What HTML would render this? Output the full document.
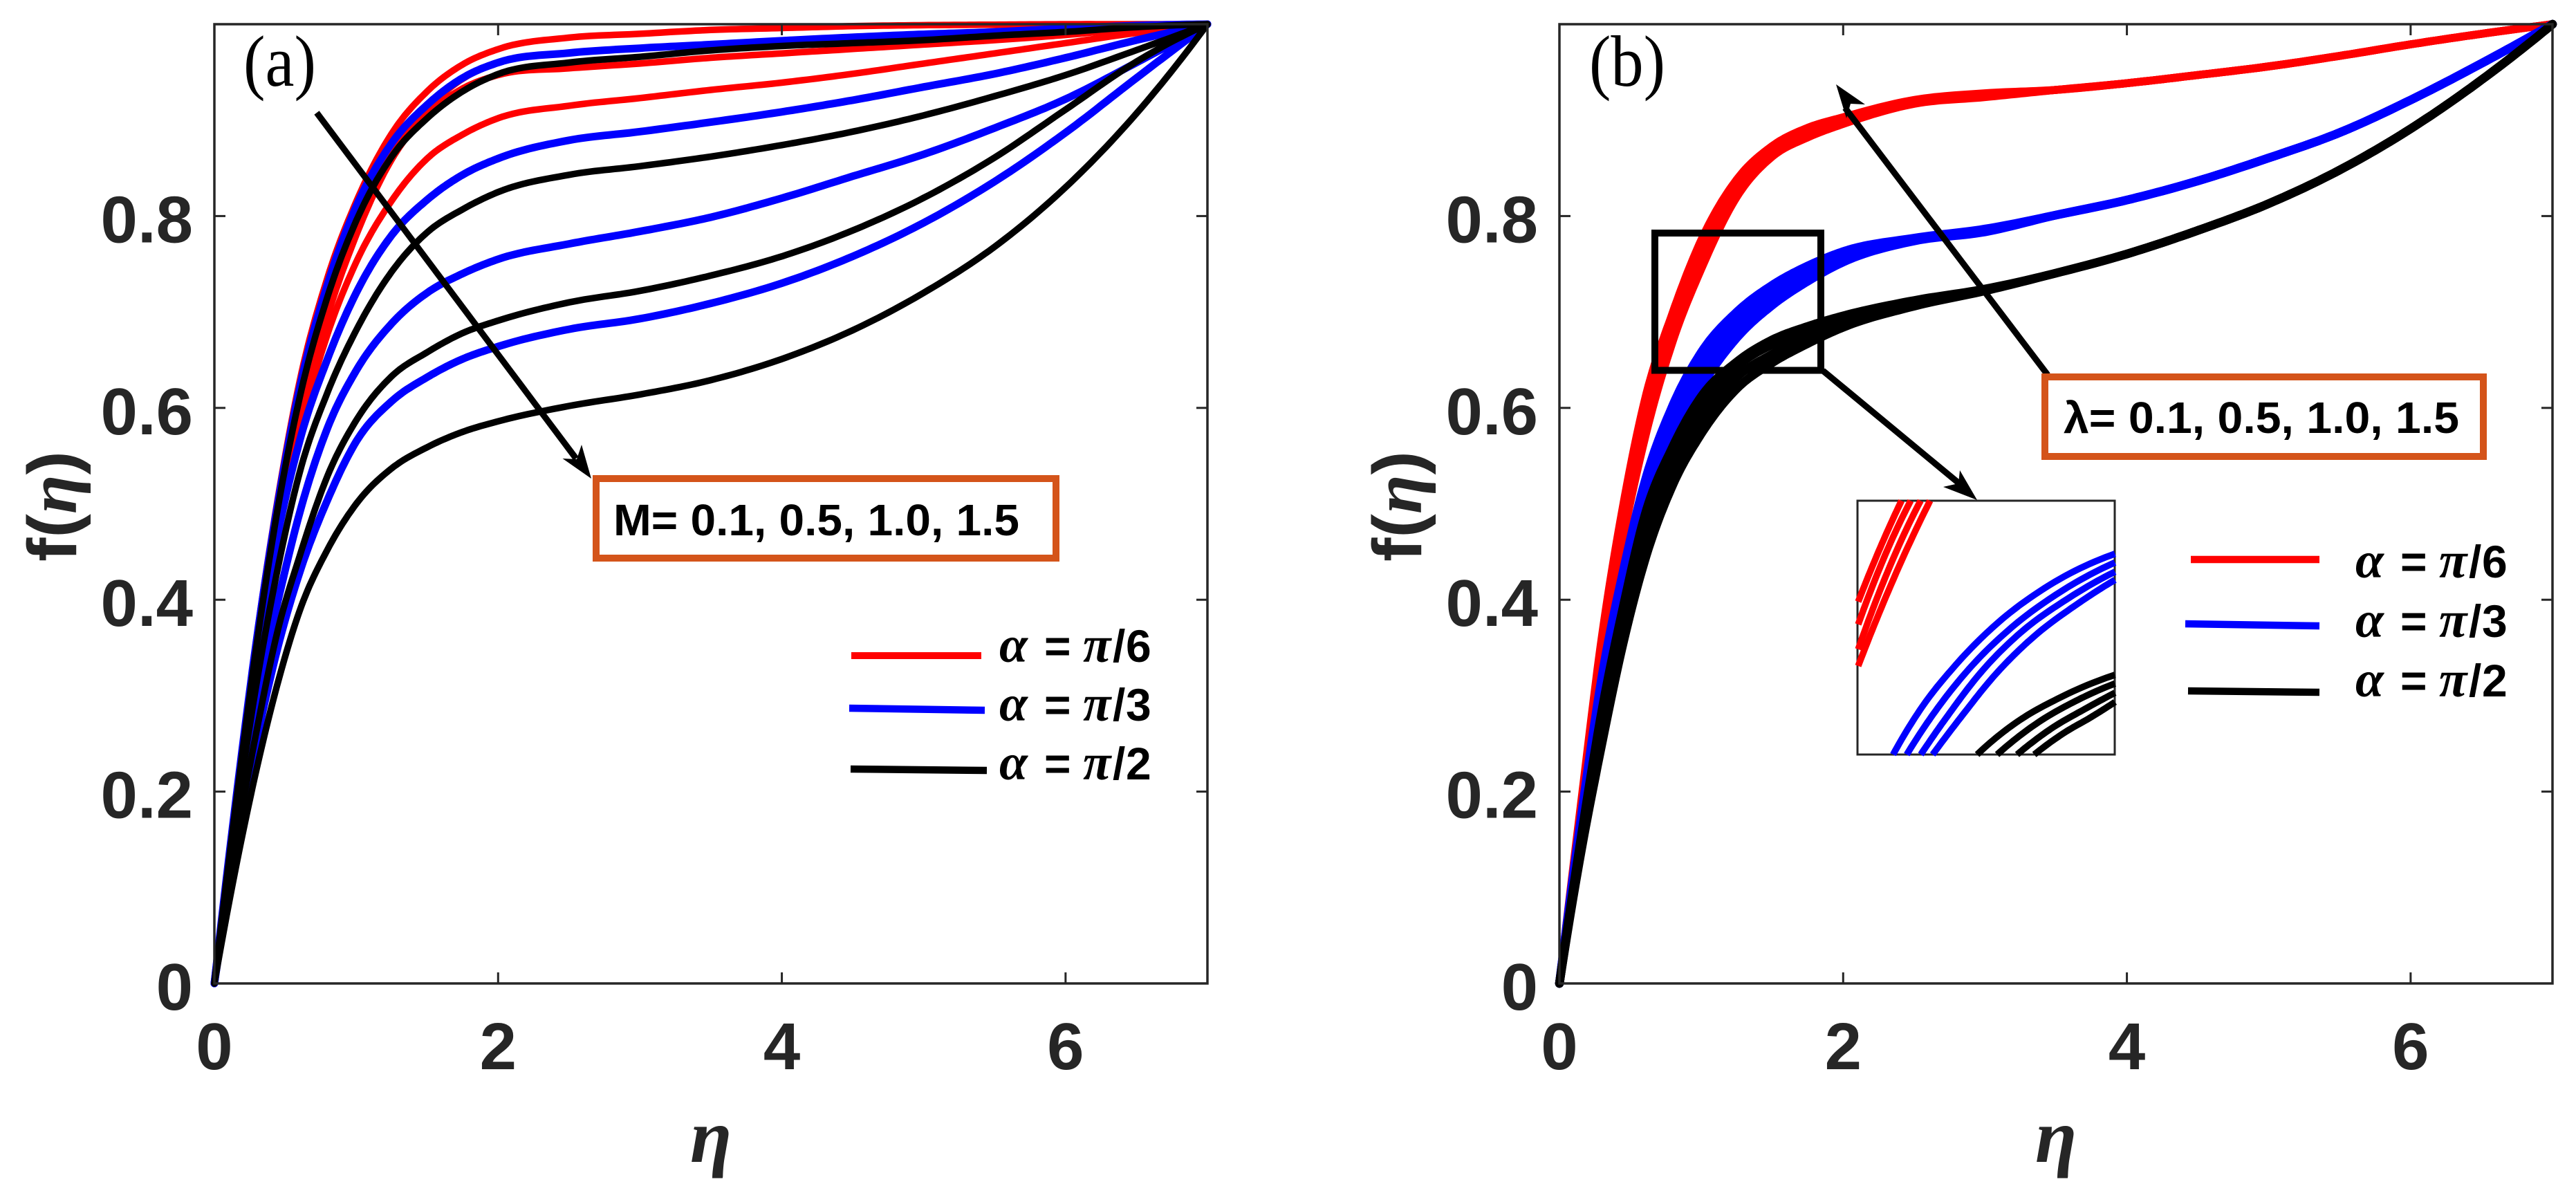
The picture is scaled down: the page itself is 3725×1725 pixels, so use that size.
<!DOCTYPE html>
<html lang="en">
<head>
<meta charset="utf-8">
<title>f(eta) profiles</title>
<style>
html,body{margin:0;padding:0;background:#fff;}
svg{display:block;}
.sans{font-family:"Liberation Sans",sans-serif;font-weight:700;}
.serif{font-family:"Liberation Serif",serif;}
.tick{font-family:"Liberation Sans",sans-serif;font-weight:700;font-size:96px;fill:#262626;}
.greek{font-family:"Liberation Serif",serif;font-style:italic;font-weight:700;}
.lg{font-family:"Liberation Serif",serif;font-style:italic;font-weight:700;font-size:74px;}
</style>
</head>
<body>
<svg id="chart" xmlns="http://www.w3.org/2000/svg" width="3725" height="1725" viewBox="0 0 3725 1725">
<rect x="0" y="0" width="3725" height="1725" fill="#fff"/>
<g id="panel-a"></g>
<g id="panel-b"></g>
<g id="inset"></g>

<!-- panel a annotations -->
<text class="serif" x="352" y="124" font-size="105" textLength="105" lengthAdjust="spacingAndGlyphs" fill="#000">(a)</text>
<g>
<line x1="458" y1="163" x2="833" y2="663" stroke="#000" stroke-width="9"/>
<polygon points="855,692 841,643 834,664 813.5,663" fill="#000"/>
</g>
<rect x="862" y="692" width="665" height="115" fill="#fff" stroke="#D4541A" stroke-width="10"/>
<text class="sans" x="887" y="774" font-size="64" textLength="587" lengthAdjust="spacingAndGlyphs" fill="#000">M= 0.1, 0.5, 1.0, 1.5</text>

<!-- panel a legend -->
<g>
<line x1="1231" y1="948" x2="1419" y2="948" stroke="#f00" stroke-width="10"/>
<line x1="1228" y1="1024" x2="1424" y2="1027" stroke="#00f" stroke-width="10.5"/>
<line x1="1230" y1="1112" x2="1427" y2="1114" stroke="#000" stroke-width="10.5"/>
<text y="957" font-size="66" fill="#000"><tspan class="lg" x="1445">α</tspan><tspan class="sans" x="1510">=</tspan><tspan class="lg" x="1566">π</tspan><tspan class="sans" x="1609">/</tspan><tspan class="sans" x="1628">6</tspan></text>
<text y="1042" font-size="66" fill="#000"><tspan class="lg" x="1445">α</tspan><tspan class="sans" x="1510">=</tspan><tspan class="lg" x="1566">π</tspan><tspan class="sans" x="1609">/</tspan><tspan class="sans" x="1628">3</tspan></text>
<text y="1127" font-size="66" fill="#000"><tspan class="lg" x="1445">α</tspan><tspan class="sans" x="1510">=</tspan><tspan class="lg" x="1566">π</tspan><tspan class="sans" x="1609">/</tspan><tspan class="sans" x="1628">2</tspan></text>
</g>

<!-- panel b annotations -->
<text class="serif" x="2298" y="124" font-size="105" textLength="110" lengthAdjust="spacingAndGlyphs" fill="#000">(b)</text>
<rect x="2393" y="337" width="240" height="198.5" fill="none" stroke="#000" stroke-width="10"/>
<g>
<line x1="2961" y1="542" x2="2668" y2="156" stroke="#000" stroke-width="9"/>
<polygon points="2655,122 2670,171 2676,150 2697,151" fill="#000"/>
</g>
<g>
<line x1="2636" y1="536" x2="2833" y2="699" stroke="#000" stroke-width="9"/>
<polygon points="2859,723 2810,704 2832,699 2834,680" fill="#000"/>
</g>
<rect x="2957" y="545" width="634" height="115" fill="#fff" stroke="#D4541A" stroke-width="10"/>
<text class="sans" x="2984" y="626" font-size="64" textLength="572" lengthAdjust="spacingAndGlyphs" fill="#000">λ= 0.1, 0.5, 1.0, 1.5</text>

<!-- panel b legend -->
<g>
<line x1="3168" y1="809" x2="3354" y2="809" stroke="#f00" stroke-width="10.5"/>
<line x1="3160" y1="902" x2="3354" y2="905" stroke="#00f" stroke-width="10.5"/>
<line x1="3164" y1="999" x2="3354" y2="1001" stroke="#000" stroke-width="10.5"/>
<text y="835" font-size="66" fill="#000"><tspan class="lg" x="3406">α</tspan><tspan class="sans" x="3471">=</tspan><tspan class="lg" x="3527">π</tspan><tspan class="sans" x="3570">/</tspan><tspan class="sans" x="3589">6</tspan></text>
<text y="921" font-size="66" fill="#000"><tspan class="lg" x="3406">α</tspan><tspan class="sans" x="3471">=</tspan><tspan class="lg" x="3527">π</tspan><tspan class="sans" x="3570">/</tspan><tspan class="sans" x="3589">3</tspan></text>
<text y="1007" font-size="66" fill="#000"><tspan class="lg" x="3406">α</tspan><tspan class="sans" x="3471">=</tspan><tspan class="lg" x="3527">π</tspan><tspan class="sans" x="3570">/</tspan><tspan class="sans" x="3589">2</tspan></text>
</g>

<!-- axis titles -->
<text class="greek" x="1028" y="1680" font-size="110" text-anchor="middle" fill="#262626">η</text>
<text class="greek" x="2973" y="1680" font-size="110" text-anchor="middle" fill="#262626">η</text>
<text class="sans" transform="translate(110,732) rotate(-90)" text-anchor="middle" font-size="100" textLength="160" lengthAdjust="spacingAndGlyphs" fill="#262626">f(<tspan class="greek">η</tspan>)</text>
<text class="sans" transform="translate(2055,732) rotate(-90)" text-anchor="middle" font-size="100" textLength="160" lengthAdjust="spacingAndGlyphs" fill="#262626">f(<tspan class="greek">η</tspan>)</text>
</svg>

<script>
const etaGrid = [0,.15,.3,.45,.6,.8,1,1.25,1.5,1.75,2,2.5,3,3.5,4,4.5,5,5.5,6,6.5,7];
const xTicks = [0,2,4,6];
const xTickLabels = ['0','2','4','6'];
const yTicks = [0,.2,.4,.6,.8];
const yTickLabels = ['0','0.2','0.4','0.6','0.8'];

/* Panel (a): alpha = pi/6 (red) */
const aRedM01 = [0,.19,.363,.508,.627,.737,.815,.886,.93,.958,.974,.986,.99,.994,.996,.998,.999,.9995,1,1,1];
const aRedM05 = [0,.188,.358,.5,.615,.722,.802,.872,.913,.943,.96,.97,.975,.978,.982,.986,.989,.992,.995,.998,1];
const aRedM10 = [0,.188,.358,.487,.59,.697,.78,.859,.906,.933,.947,.954,.959,.965,.9696,.9742,.9788,.9834,.9888,.9956,1];
const aRedM15 = [0,.185,.352,.475,.575,.678,.752,.816,.86,.885,.902,.915,.923,.9315,.9391,.9483,.959,.9696,.9803,.991,1];
/* Panel (a): alpha = pi/3 (blue) */
const aBlueM01 = [0,.189,.36,.503,.62,.73,.81,.876,.916,.944,.96,.97,.975,.9788,.9828,.9864,.9895,.992,.9956,.9986,1];
const aBlueM05 = [0,.178,.34,.47,.565,.652,.72,.78,.817,.843,.86,.879,.888,.8979,.9086,.9208,.9346,.9483,.965,.9834,1];
const aBlueM10 = [0,.165,.3,.4,.49,.58,.639,.688,.72,.74,.755,.771,.784,.7988,.8187,.8415,.8644,.8918,.922,.96,1];
const aBlueM15 = [0,.14,.255,.352,.428,.505,.565,.607,.632,.651,.664,.682,.693,.709,.73,.758,.793,.836,.887,.944,1];
/* Panel (a): alpha = pi/2 (black) */
const aBlackM01 = [0,.185,.355,.498,.61,.717,.795,.862,.902,.93,.948,.96,.966,.9727,.9773,.9803,.9834,.988,.992,.997,1];
const aBlackM05 = [0,.17,.315,.435,.532,.617,.681,.742,.783,.807,.825,.843,.852,.862,.874,.888,.905,.925,.947,.973,1];
const aBlackM10 = [0,.145,.265,.37,.445,.53,.587,.633,.658,.678,.691,.71,.722,.738,.758,.785,.819,.861,.911,.961,1];
const aBlackM15 = [0,.12,.225,.315,.388,.453,.5,.537,.559,.575,.586,.602,.614,.629,.651,.681,.72,.768,.83,.907,1];

/* Panel (b): red band */
const bRedL01 = [0,.185,.362,.499,.607,.7,.775,.838,.873,.892,.903,.921,.928,.9315,.9385,.947,.956,.967,.979,.99,1];
const bRedL05 = [0,.178,.353,.488,.596,.69,.765,.832,.869,.889,.901,.92,.927,.9315,.9385,.947,.956,.967,.979,.99,1];
const bRedL10 = [0,.172,.344,.476,.581,.68,.755,.826,.866,.885,.898,.918,.925,.9315,.9385,.947,.956,.967,.979,.99,1];
const bRedL15 = [0,.165,.335,.465,.567,.67,.745,.82,.862,.882,.896,.917,.924,.9315,.9385,.947,.956,.967,.979,.99,1];
/* Panel (b): blue band */
const bBlueL01 = [0,.17,.32,.43,.522,.603,.658,.7,.728,.748,.763,.777,.7865,.801,.8167,.8366,.8606,.887,.921,.9592,1];
const bBlueL05 = [0,.165,.311,.42,.511,.59,.646,.691,.721,.743,.759,.7765,.786,.801,.8167,.8366,.8606,.887,.921,.9592,1];
const bBlueL10 = [0,.16,.304,.41,.5,.578,.634,.682,.714,.737,.755,.775,.7845,.801,.8167,.8366,.8606,.887,.921,.9592,1];
const bBlueL15 = [0,.155,.297,.4,.488,.565,.622,.673,.707,.732,.752,.774,.7835,.801,.8167,.8366,.8606,.887,.921,.9592,1];
/* Panel (b): black band */
const bBlackL01 = [0,.15,.285,.393,.487,.56,.612,.648,.671,.685,.696,.712,.724,.7405,.7605,.785,.813,.848,.891,.942,1];
const bBlackL05 = [0,.145,.273,.38,.47,.547,.6,.643,.666,.679,.692,.71,.7235,.7405,.7605,.785,.813,.848,.891,.942,1];
const bBlackL10 = [0,.14,.262,.368,.455,.533,.587,.632,.656,.673,.688,.708,.7225,.7405,.7605,.785,.813,.848,.891,.942,1];
const bBlackL15 = [0,.135,.25,.355,.44,.52,.573,.62,.647,.667,.684,.706,.722,.7405,.7605,.785,.813,.848,.891,.942,1];

/* Inset readings (eta, value) */
const insetRed1Eta = [.6733,.767,.87];
const insetRed1Val = [.7251,.7537,.782];
const insetRed2Eta = [.6733,.786,.912];
const insetRed2Val = [.7123,.7485,.782];
const insetRed3Eta = [.6733,.807,.957];
const insetRed3Val = [.6983,.742,.782];
const insetRed4Eta = [.6733,.821,1];
const insetRed4Val = [.6889,.7342,.782];
const insetBlue1Eta = [.832,.961,1.102,1.298,1.523,1.841];
const insetBlue1Val = [.639,.6653,.6874,.7121,.7329,.7521];
const insetBlue2Eta = [.894,1.024,1.165,1.354,1.572,1.841];
const insetBlue2Val = [.639,.6634,.6855,.7088,.729,.7472];
const insetBlue3Eta = [.958,1.08,1.228,1.41,1.621,1.841];
const insetBlue3Val = [.639,.6608,.6848,.7075,.7264,.742];
const insetBlue4Eta = [1.012,1.137,1.298,1.467,1.67,1.841];
const insetBlue4Val = [.639,.6595,.6842,.7049,.7238,.7374];
const insetBlack1Eta = [1.214,1.382,1.593,1.841];
const insetBlack1Val = [.639,.6562,.6712,.6839];
const insetBlack2Eta = [1.305,1.481,1.663,1.841];
const insetBlack2Val = [.639,.6562,.6692,.679];
const insetBlack3Eta = [1.396,1.551,1.705,1.841];
const insetBlack3Val = [.639,.6536,.6647,.6738];
const insetBlack4Eta = [1.474,1.607,1.733,1.841];
const insetBlack4Val = [.639,.651,.6601,.6686];

const NS = 'http://www.w3.org/2000/svg';
const AXIS_TOP = 35, AXIS_BOTTOM = 1422;

function el(tag, attrs, parent) {
  const node = document.createElementNS(NS, tag);
  for (const k in attrs) node.setAttribute(k, attrs[k]);
  parent.appendChild(node);
  return node;
}

function smoothCurve(xs, ys) {
  const n = xs.length, d = [], m = [];
  for (let i = 0; i < n - 1; i++) d.push((ys[i+1]-ys[i])/(xs[i+1]-xs[i]));
  m.push(n > 2 ? d[0] + (d[0]-d[1])*0.5 : d[0]);
  for (let i = 1; i < n - 1; i++) {
    const h0 = xs[i]-xs[i-1], h1 = xs[i+1]-xs[i];
    m.push((d[i-1]*h1+d[i]*h0)/(h0+h1));
  }
  m.push(n > 2 ? d[n-2] + (d[n-2]-d[n-3])*0.5 : d[n-2]);
  const out = [];
  for (let i = 0; i < n - 1; i++) {
    const h = xs[i+1]-xs[i];
    for (let s = 0; s < 14; s++) {
      const t = s/14, t2 = t*t, t3 = t2*t;
      out.push([xs[i]+t*h,
        (2*t3-3*t2+1)*ys[i]+(t3-2*t2+t)*h*m[i]+(-2*t3+3*t2)*ys[i+1]+(t3-t2)*h*m[i+1]]);
    }
  }
  out.push([xs[n-1], ys[n-1]]);
  return out;
}

function pathFrom(xs, ys, sx, sy) {
  return smoothCurve(xs, ys).map((p,i) => (i?'L':'M')+sx(p[0]).toFixed(1)+' '+sy(p[1]).toFixed(1)).join('');
}

function drawPanel(group, left, right, series) {
  const sx = eta => left + eta*(right-left)/7;
  const sy = v => AXIS_BOTTOM - v*(AXIS_BOTTOM-AXIS_TOP);

  for (const s of series) {
    const line = el('path', {d: pathFrom(etaGrid, s.values, sx, sy), fill:'none', stroke:s.color, 'stroke-width':s.width, 'stroke-linejoin':'round', 'stroke-linecap':'round'}, group);
    
    
  }

  const frame = el('rect', {x:left, y:AXIS_TOP, width:right-left, height:AXIS_BOTTOM-AXIS_TOP, fill:'none', stroke:'#262626', 'stroke-width':3.5}, group);
  
  

  xTicks.forEach((t,i) => {
    const b = el('line', {x1:sx(t), x2:sx(t), y1:AXIS_BOTTOM, y2:AXIS_BOTTOM-16, stroke:'#262626', 'stroke-width':3}, group);
    
    
    const u = el('line', {x1:sx(t), x2:sx(t), y1:AXIS_TOP, y2:AXIS_TOP+16, stroke:'#262626', 'stroke-width':3}, group);
    
    
    const lab = el('text', {x:sx(t), y:1546, class:'tick', 'text-anchor':'middle'}, group);
    lab.textContent = xTickLabels[i];
    
    
  });
  yTicks.forEach((t,i) => {
    const l = el('line', {x1:left, x2:left+16, y1:sy(t), y2:sy(t), stroke:'#262626', 'stroke-width':3}, group);
    
    
    const r = el('line', {x1:right, x2:right-16, y1:sy(t), y2:sy(t), stroke:'#262626', 'stroke-width':3}, group);
    
    
    const lab = el('text', {x:left-31, y:sy(t)+38, class:'tick', 'text-anchor':'end'}, group);
    lab.textContent = yTickLabels[i];
    
    
  });
}

drawPanel(document.getElementById('panel-a'), 310, 1746, [
  {name:'curve-pi6-m01', color:'#f00', width:9.5, values:aRedM01},
  {name:'curve-pi6-m05', color:'#f00', width:9.5, values:aRedM05},
  {name:'curve-pi6-m10', color:'#f00', width:9.5, values:aRedM10},
  {name:'curve-pi6-m15', color:'#f00', width:9.5, values:aRedM15},
  {name:'curve-pi3-m01', color:'#00f', width:11, values:aBlueM01},
  {name:'curve-pi3-m05', color:'#00f', width:11, values:aBlueM05},
  {name:'curve-pi3-m10', color:'#00f', width:11, values:aBlueM10},
  {name:'curve-pi3-m15', color:'#00f', width:11, values:aBlueM15},
  {name:'curve-pi2-m01', color:'#000', width:9.5, values:aBlackM01},
  {name:'curve-pi2-m05', color:'#000', width:9.5, values:aBlackM05},
  {name:'curve-pi2-m10', color:'#000', width:9.5, values:aBlackM10},
  {name:'curve-pi2-m15', color:'#000', width:9.5, values:aBlackM15}
]);

drawPanel(document.getElementById('panel-b'), 2255, 3691, [
  {name:'curve-pi6-l01', color:'#f00', width:11.5, values:bRedL01},
  {name:'curve-pi6-l05', color:'#f00', width:11.5, values:bRedL05},
  {name:'curve-pi6-l10', color:'#f00', width:11.5, values:bRedL10},
  {name:'curve-pi6-l15', color:'#f00', width:11.5, values:bRedL15},
  {name:'curve-pi3-l01', color:'#00f', width:12.5, values:bBlueL01},
  {name:'curve-pi3-l05', color:'#00f', width:12.5, values:bBlueL05},
  {name:'curve-pi3-l10', color:'#00f', width:12.5, values:bBlueL10},
  {name:'curve-pi3-l15', color:'#00f', width:12.5, values:bBlueL15},
  {name:'curve-pi2-l01', color:'#000', width:12.5, values:bBlackL01},
  {name:'curve-pi2-l05', color:'#000', width:12.5, values:bBlackL05},
  {name:'curve-pi2-l10', color:'#000', width:12.5, values:bBlackL10},
  {name:'curve-pi2-l15', color:'#000', width:12.5, values:bBlackL15}
]);

(function drawInset() {
  const group = document.getElementById('inset');
  const sx = eta => 2686 + (eta-.67)*(3058-2686)/1.17;
  const sy = v => 1091 - (v-.639)*(1091-724)/.143;
  const box = el('rect', {x:2686, y:724, width:372, height:367, fill:'#fff', stroke:'#262626', 'stroke-width':3}, group);
  
  
  const lines = [
    ['#f00', insetRed1Eta, insetRed1Val], ['#f00', insetRed2Eta, insetRed2Val],
    ['#f00', insetRed3Eta, insetRed3Val], ['#f00', insetRed4Eta, insetRed4Val],
    ['#00f', insetBlue1Eta, insetBlue1Val], ['#00f', insetBlue2Eta, insetBlue2Val],
    ['#00f', insetBlue3Eta, insetBlue3Val], ['#00f', insetBlue4Eta, insetBlue4Val],
    ['#000', insetBlack1Eta, insetBlack1Val], ['#000', insetBlack2Eta, insetBlack2Val],
    ['#000', insetBlack3Eta, insetBlack3Val], ['#000', insetBlack4Eta, insetBlack4Val]
  ];
  lines.forEach(l => {
    const p = el('path', {d: pathFrom(l[1], l[2], sx, sy), fill:'none', stroke:l[0], 'stroke-width':9.5}, group);
    
    
  });
})();
</script>
</body>
</html>
